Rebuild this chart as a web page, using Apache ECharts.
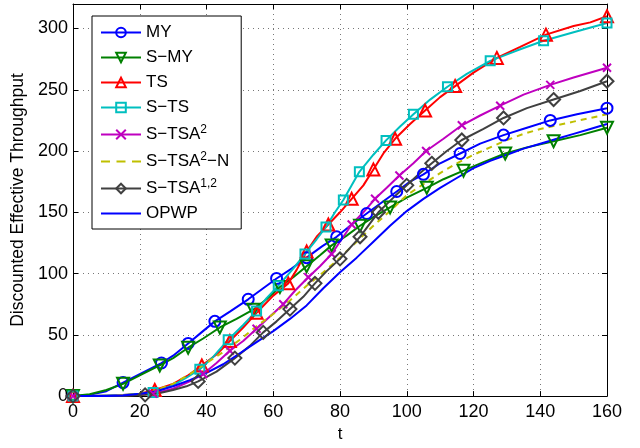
<!DOCTYPE html>
<html>
<head>
<meta charset="utf-8">
<script src="https://cdn.jsdelivr.net/npm/echarts@6/dist/echarts.min.js"></script>
<style>
  html, body { margin: 0; padding: 0; background: #fff; }
  #chart { width: 640px; height: 448px; }
</style>
</head>
<body>
<div id="chart"></div>
<script>
// curve points [t, value] and the t values where a marker is drawn
var myPts = [[0,0],[5,1],[10,4],[15,11],[20,18],[26.5,27],[30,33],[34.5,43],[38.5,52],[42.5,61],[47,69],[52.5,79],[57,88],[61,96],[65.5,104],[70,113],[74.5,122],[79,130],[83.5,140],[88,149],[92.5,158],[97,167],[101,175],[105,181],[110,190],[116,198],[122,206],[129,213],[136,219],[143,225],[151,230],[160,235]];
var myMarks = [0,15,26.5,34.5,42.5,52.5,61,70,79,88,97,105,116,129,143,160];

var smyPts = [[0,0],[5,1.5],[10,5],[15,10],[20,17],[26,25],[30,31],[34.5,39.5],[39,47],[44,56],[49,63],[54,70.5],[58,79],[62,89],[66,97],[70,106],[74,115],[77.5,123],[82,131],[86,139],[90,146],[95,154],[100,162],[106,170],[111,177],[117,184],[123,191],[129.5,198],[136,203],[144,208],[152,213],[160,219]];
var smyMarks = [0,15,26,34.5,44,54,62,70,77.5,86,95,106,117,129.5,144,160];

var tsPts = [[0,0],[5,0],[10,0.5],[15,1],[20,2],[24.5,5],[30,10],[34.5,17],[38.6,25],[43,34],[47,45],[51,56],[55,68],[60,82],[64.5,92],[67,103],[70,118],[73,130],[76.5,140],[80,150],[83.5,161],[87,172],[90,185],[93,198],[96.5,210],[101,222],[105.5,233],[110,244],[114.5,253],[120,264],[127,276],[134,285],[141.7,295],[150,302],[155,305],[160,310]];
var tsMarks = [0,24.5,38.6,47,55,64.5,70,76.5,83.5,90,96.5,105.5,114.5,127,141.7,160];

var stsPts = [[0,0],[5,0],[10,0.5],[15,1],[20,2],[24,3],[30,9],[34,15],[38,22],[42,32],[46.5,46],[51,58],[55,69.5],[58,80],[61.5,90],[66,104],[69.5,116],[73,128],[75.8,138],[78.5,150],[81,160],[83.5,172],[85.8,183],[90,197],[93.8,208.7],[98,220],[102,230],[107,242],[112.2,252.5],[118,263],[125,273.6],[133,282],[141,290],[150,297],[160,304.5]];
var stsMarks = [0,24,38,46.5,55,61.5,69.5,75.8,81,85.8,93.8,102,112.2,125,141,160];

var stsa2Pts = [[0,0],[5,0],[10,0],[15,0.5],[20,1],[24,2],[30,6],[35,12],[39,18],[43,27],[47,37],[51,45],[55,55],[59,65],[63,75],[66.5,86],[70.5,97],[74,106],[77.5,116],[80.5,128],[83.5,140],[87,150],[90.5,161],[94,170],[97.8,180],[102,190],[105.8,200],[111,210],[116.5,221],[122,229],[128,237],[135,246],[143,254],[150,260],[160,268]];
var stsa2Marks = [0,24,39,47,55,63,70.5,77.5,83.5,90.5,97.8,105.8,116.5,128,143,160];

var stsa2nPts = [[0,0],[10,0],[15,0.5],[20,2],[25,5],[30,10],[35,18],[40,27],[45,36],[50,46],[55,57],[60,67],[65,78],[70,90],[75,101],[80,113],[85,126],[90,139],[95,151],[100,164],[105,173],[110,182],[115,190],[120,197],[125,203],[130,209],[135,214],[140,218],[145,221],[150,224],[155,227],[160,230]];

var stsa12Pts = [[0,0],[10,0],[15,0],[21.6,1],[25,2],[30,5],[34,8],[37.5,12],[43,20],[48.5,31],[53,41],[57,52],[61,61],[65,71],[69,81],[72.5,92],[76,102],[80,112],[83,121],[86,130],[89,141],[91.5,150],[96,162],[100,172],[104,182],[107.5,190],[112,200],[116.5,209],[123,218],[129,227],[136,235],[144,242],[152,249],[160,257]];
var stsa12Marks = [0,21.6,37.5,48.5,57,65,72.5,80,86,91.5,100,107.5,116.5,129,144,160];

var opwpPts = [[0,0],[5,0],[10,0],[15,0.5],[20,2],[25,4],[30,8],[35,13],[40,19],[45,26],[50,35],[55,44],[60,53],[65,63],[70,74],[75,88],[80,101],[85,113],[90,126],[95,139],[100,151],[105,161],[110,170],[115,178],[120,186],[125,192],[130,197],[135,202],[140,206],[145,210],[150,214],[155,218],[160,222]];

var names = ['MY', 'S\u2212MY', 'TS', 'S\u2212TS', 'S\u2212TSA2', 'S\u2212TSA2\u2212N', 'S\u2212TSA1,2', 'OPWP'];
var legendLabels = {
    'S\u2212TSA2': 'S\u2212TSA{sup|2}',
    'S\u2212TSA2\u2212N': 'S\u2212TSA{sup|2}\u2212N',
    'S\u2212TSA1,2': 'S\u2212TSA{sup|1,2}'
};

var font = 'Liberation Sans, Arial, Helvetica, sans-serif';
var crossPath = 'path://M0,0L10,10M10,0L0,10';
// legend samples for the two series without markers
var solidIcon = 'path://M0,0h40v2h-40z';
var dashIcon = 'path://M0,0h9v2h-9zM15.5,0h9v2h-9zM31,0h9v2h-9z';

function mk(name, pts, marks, color, symbol, size, opts) {
    opts = opts || {};
    var data = pts.map(function (p) {
        if (marks && marks.indexOf(p[0]) >= 0) return {value: p};
        return {value: p, symbol: 'none'};
    });
    return {
        name: name,
        type: 'line',
        data: data,
        symbol: symbol,
        symbolSize: size,
        symbolRotate: opts.rotate || 0,
        showSymbol: true,
        clip: false,
        lineStyle: {color: color, width: 2, type: opts.dash ? [6, 5] : 'solid'},
        itemStyle: {color: 'rgba(0,0,0,0)', borderColor: color, borderWidth: 2},
        emphasis: {disabled: true},
        animation: false
    };
}

var legendData = names.map(function (n) { return {name: n}; });
legendData[5] = {name: names[5], icon: dashIcon, itemStyle: {color: '#bfbf00', borderWidth: 0}};
legendData[7] = {name: names[7], icon: solidIcon, itemStyle: {color: '#0000ff', borderWidth: 0}};

var myChart = echarts.init(document.getElementById('chart'));

var option = {
    backgroundColor: '#fff',
    animation: false,
    grid: {left: 73, right: 33, top: 4, bottom: 50, show: false},
    legend: {
        orient: 'vertical',
        left: 92,
        top: 16,
        padding: [8, 12, 7, 8],
        itemGap: 8,
        itemWidth: 40,
        itemHeight: 12,
        backgroundColor: '#fff',
        borderColor: '#000',
        borderWidth: 1,
        borderRadius: 0,
        data: legendData,
        formatter: function (n) { return legendLabels[n] || n; },
        textStyle: {
            fontFamily: font, fontSize: 17, color: '#000',
            rich: {
                sup: {fontFamily: font, fontSize: 12, color: '#000', padding: [0, 0, 9, 0]}
            }
        }
    },
    xAxis: [{
        type: 'value', min: 0, max: 160, interval: 20,
        name: 't', nameLocation: 'middle', nameGap: 27,
        nameTextStyle: {fontFamily: font, fontSize: 17, color: '#000'},
        axisLine: {show: true, onZero: false, lineStyle: {color: '#000', width: 1}},
        axisTick: {show: true, inside: true, length: 5, lineStyle: {color: '#000'}},
        axisLabel: {fontFamily: font, fontSize: 18, color: '#000', margin: 7},
        splitLine: {show: true, lineStyle: {color: '#777', type: [1, 4], width: 1}}
    }, {
        type: 'value', min: 0, max: 160, interval: 20, position: 'top',
        axisLine: {show: true, onZero: false, lineStyle: {color: '#000', width: 1}},
        axisTick: {show: true, inside: true, length: 5, lineStyle: {color: '#000'}},
        axisLabel: {show: false},
        splitLine: {show: false}
    }],
    yAxis: [{
        type: 'value', min: 0, max: 320, interval: 50,
        name: 'Discounted Effective Throughput', nameLocation: 'middle', nameGap: 44,
        nameTextStyle: {fontFamily: font, fontSize: 17.5, color: '#000'},
        axisLine: {show: true, onZero: false, lineStyle: {color: '#000', width: 1}},
        axisTick: {show: true, inside: true, length: 5, lineStyle: {color: '#000'}},
        axisLabel: {fontFamily: font, fontSize: 18, color: '#000', margin: 5, showMaxLabel: false},
        splitLine: {show: true, lineStyle: {color: '#777', type: [1, 4], width: 1}}
    }, {
        type: 'value', min: 0, max: 320, interval: 50, position: 'right',
        axisLine: {show: true, onZero: false, lineStyle: {color: '#000', width: 1}},
        axisTick: {show: true, inside: true, length: 5, lineStyle: {color: '#000'}},
        axisLabel: {show: false},
        splitLine: {show: false}
    }],
    series: [
        mk(names[0], myPts, myMarks, '#0000ff', 'circle', 11),
        mk(names[1], smyPts, smyMarks, '#008000', 'triangle', 12, {rotate: 180}),
        mk(names[2], tsPts, tsMarks, '#ff0000', 'triangle', 12),
        mk(names[3], stsPts, stsMarks, '#00bfbf', 'rect', 9),
        mk(names[4], stsa2Pts, stsa2Marks, '#bf00bf', crossPath, 8),
        mk(names[5], stsa2nPts, null, '#bfbf00', 'none', 0, {dash: true}),
        mk(names[6], stsa12Pts, stsa12Marks, '#404040', 'diamond', 13),
        mk(names[7], opwpPts, null, '#0000ff', 'none', 0)
    ]
};

myChart.setOption(option);
</script>
</body>
</html>
